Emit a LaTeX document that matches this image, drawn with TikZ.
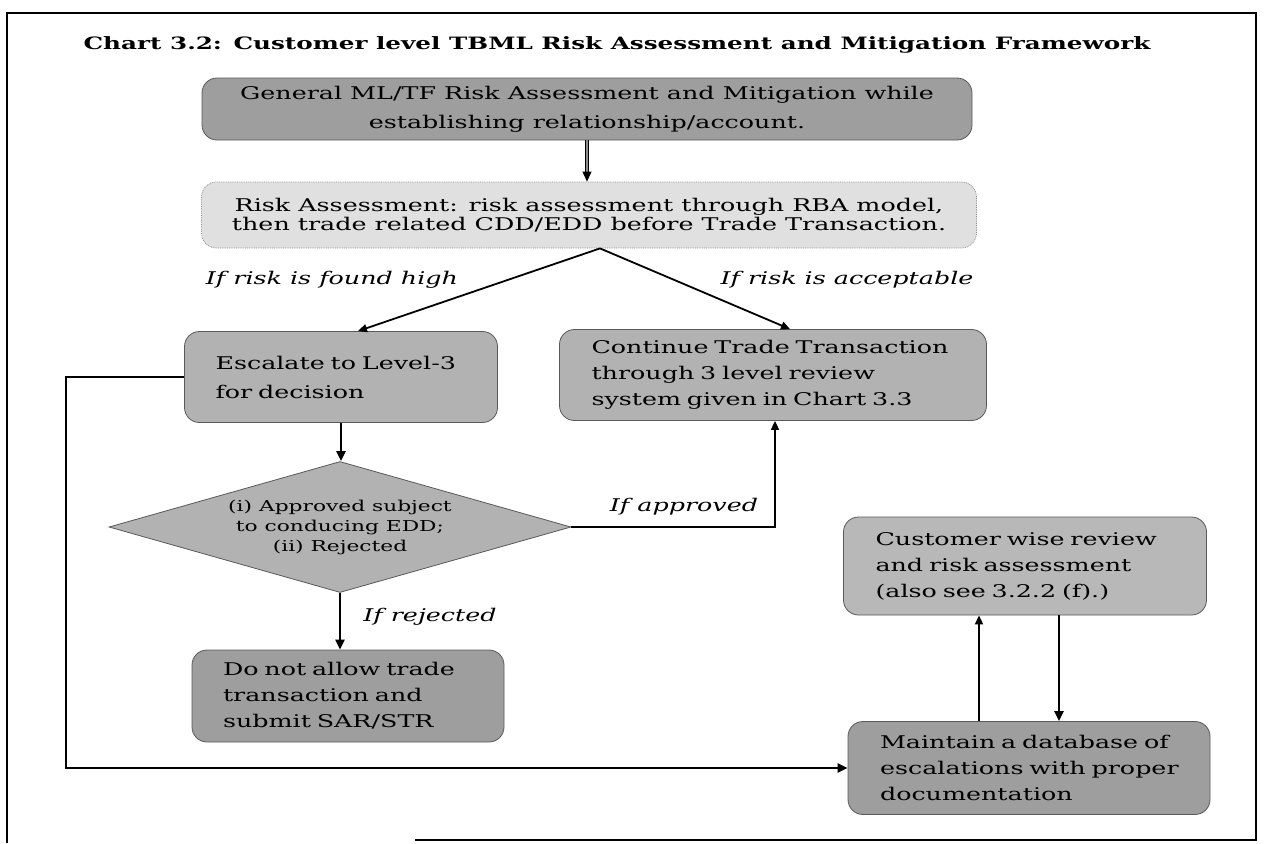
\documentclass[tikz,border=0pt]{standalone}
\usepackage{fontspec}
\setmainfont{DejaVu Serif}[FakeStretch=1.45]
\usetikzlibrary{arrows.meta,shapes.geometric}
\begin{document}
\begin{tikzpicture}[x=1pt,y=-1pt,
  every node/.style={font=\fontsize{17.5}{26}\selectfont, text=black},
  box/.style={draw=black!65, line width=0.8pt, rounded corners=15pt, align=left, inner xsep=0pt, inner ysep=0pt},
  darkbox/.style={box, fill=black!38},
  midbox/.style={box, fill=black!30},
  lightbox/.style={draw=black!45, densely dotted, line width=0.8pt, rounded corners=15pt, fill=black!12, align=center, inner sep=0pt},
  cond/.style={font=\fontsize{17.5}{22}\selectfont\itshape},
  flow/.style={line width=2.6pt, -{Triangle[length=10pt,width=9pt]}},
  hollow/.style={line width=0.9pt, double=black!45, double distance=1.8pt, -{Triangle[length=10pt,width=9pt]}},
  thin/.style={line width=1.8pt, -{Triangle[length=9pt,width=8pt]}}
]
\useasboundingbox (0,0) rectangle (1271,843);
% outer frame (open at the lower left)
\draw[line width=1.4pt] (415,840) -- (1256,840) -- (1256,13) -- (7,13) -- (7,843);

% title
\node[font=\fontsize{17}{22}\selectfont\bfseries] (title) at (617,45)
  {Chart 3.2: Customer level TBML Risk Assessment and Mitigation Framework};

% boxes
\node[darkbox, align=center, minimum width=770pt, minimum height=62pt,
      font=\fontsize{17.5}{29}\selectfont] (gen) at (587,109)
  {General ML/TF Risk Assessment and Mitigation while\\establishing relationship/account.};
\node[lightbox, minimum width=775pt, minimum height=66pt,
      font=\fontsize{17.5}{19.5}\selectfont] (risk) at (589,215)
  {Risk Assessment: risk assessment through RBA model,\\then trade related CDD/EDD before Trade Transaction.};
\node[midbox, text width=251pt, minimum width=313pt, minimum height=91pt,
      font=\fontsize{17.5}{29}\selectfont] (esc) at (341,377)
  {\mbox{Escalate to Level-3}\\\mbox{for decision}};
\node[midbox, text width=363pt, minimum width=427pt, minimum height=91pt] (cont) at (773,375)
  {\mbox{Continue Trade Transaction}\\\mbox{through 3 level review}\\\mbox{system given in Chart 3.3}};
\node[diamond, draw=black!65, line width=0.8pt, fill=black!30, aspect=3.5, inner sep=0pt,
      minimum width=462pt, minimum height=131pt, align=center,
      font=\fontsize{15}{20}\selectfont] (dec) at (340,527)
  {(i) Approved subject\\to conducing EDD;\\(ii) Rejected};
\node[darkbox, text width=250pt, minimum width=312pt, minimum height=92pt] (deny) at (348,696)
  {\mbox{Do not allow trade}\\\mbox{transaction and}\\\mbox{submit SAR/STR}};
\node[midbox, fill=black!28, text width=299pt, minimum width=363pt, minimum height=98pt] (cust) at (1025,566)
  {\mbox{Customer wise review}\\\mbox{and risk assessment}\\\mbox{(also see 3.2.2 (f).)}};
\node[darkbox, text width=298pt, minimum width=362pt, minimum height=93pt] (db) at (1029,768)
  {\mbox{Maintain a database of}\\\mbox{escalations with proper}\\\mbox{documentation}};

% connectors
\draw[hollow] (gen.south) -- (gen.south |- risk.north);
\draw[thin] ([xshift=11pt]risk.south) -- ([xshift=17pt]esc.north);
\draw[thin] ([xshift=11pt]risk.south) -- ([xshift=17pt]cont.north);
\draw[flow] (esc.south) -- (esc.south |- dec.north);
\draw[flow] (dec.south) -- (dec.south |- deny.north);
\draw[thin] (dec.east) -| ([xshift=2pt]cont.south);
\draw[flow] (esc.west) -- ++(-118,0) |- (db.west);
\draw[thin] ([xshift=-50pt]db.north) -- ([xshift=-50pt]db.north |- cust.south);
\draw[flow] ([xshift=34pt]cust.south) -- ([xshift=34pt]cust.south |- db.north);

% branch labels
\node[cond] (lhigh) at (332,280) {If risk is found high};
\node[cond] (lok) at (847,280) {If risk is acceptable};
\node[cond] (lapp) at (684,507) {If approved};
\node[cond] (lrej) at (430,617) {If rejected};
\end{tikzpicture}
\end{document}
